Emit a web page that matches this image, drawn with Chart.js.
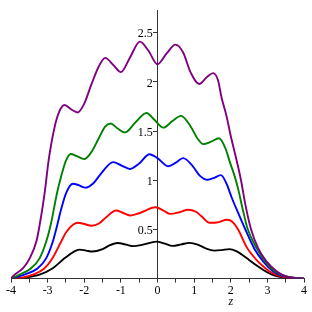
<!DOCTYPE html>
<html>
<head>
<meta charset="utf-8">
<script src="https://cdn.jsdelivr.net/npm/chart.js@4.4.1/dist/chart.umd.min.js"></script>
<style>
html,body{margin:0;padding:0;background:#fff;}
#wrap{width:312px;height:312px;position:relative;}
</style>
</head>
<body>
<div id="wrap"><canvas id="c" width="312" height="312"></canvas></div>
<script>
// ---- data ----
const xTitle = 'z';
const xTicks = [-4,-3,-2,-1,0,1,2,3,4];
const yTicks = [0.5,1,1.5,2,2.5];

const blackZ = [-4,-3.6,-3.22,-2.86,-2.54,-2.3,-2.13,-1.95,-1.78,-1.5,-1.3,-1.09,-0.85,-0.66,-0.4,-0.03,0.2,0.41,0.65,0.87,1.1,1.3,1.55,1.75,1.96,2.15,2.3,2.5,2.7,2.9,3.1,3.3,3.6,4];
const blackV = [0,0.01,0.04,0.106,0.206,0.27,0.295,0.285,0.275,0.30,0.34,0.362,0.345,0.33,0.345,0.376,0.355,0.333,0.348,0.363,0.345,0.31,0.285,0.29,0.30,0.28,0.245,0.19,0.135,0.085,0.045,0.02,0.005,0];

const redZ = [-4,-3.7,-3.4,-3.1,-2.88,-2.64,-2.49,-2.3,-2.17,-2.0,-1.8,-1.6,-1.4,-1.13,-0.95,-0.75,-0.5,-0.05,0.15,0.35,0.6,0.83,1.05,1.2,1.42,1.62,1.9,2.05,2.2,2.45,2.6,2.74,2.9,3.05,3.3,3.6,4];
const redV = [0,0.01,0.04,0.1,0.2,0.37,0.474,0.55,0.568,0.555,0.538,0.56,0.625,0.692,0.67,0.642,0.665,0.725,0.695,0.658,0.675,0.70,0.68,0.635,0.568,0.57,0.598,0.575,0.5,0.31,0.235,0.175,0.12,0.075,0.03,0.008,0];

const blueZ = [-4,-3.63,-3.27,-3.04,-2.86,-2.74,-2.63,-2.49,-2.31,-2.15,-1.97,-1.75,-1.57,-1.21,-0.98,-0.75,-0.5,-0.22,0,0.3,0.5,0.7,0.95,1.16,1.37,1.55,1.73,1.88,2.03,2.2,2.39,2.64,2.89,3.16,3.4,3.7,4];
const blueV = [0,0.04,0.106,0.206,0.374,0.54,0.707,0.875,0.965,0.95,0.925,0.97,1.055,1.185,1.15,1.115,1.17,1.265,1.225,1.142,1.18,1.225,1.15,1.045,1.005,1.025,1.052,0.97,0.82,0.67,0.507,0.307,0.173,0.073,0.03,0.008,0];

const greenZ = [-4,-3.77,-3.45,-3.22,-3.04,-2.92,-2.74,-2.63,-2.5,-2.37,-2.2,-2.0,-1.8,-1.6,-1.43,-1.28,-1.1,-0.89,-0.6,-0.3,-0.1,0.16,0.4,0.64,0.9,1.1,1.25,1.45,1.68,1.85,1.98,2.1,2.21,2.33,2.46,2.71,2.94,3.21,3.5,3.8,4];
const greenV = [0,0.04,0.106,0.206,0.374,0.54,0.875,1.04,1.2,1.268,1.245,1.215,1.29,1.43,1.545,1.578,1.53,1.487,1.59,1.685,1.62,1.536,1.6,1.655,1.55,1.42,1.368,1.39,1.428,1.33,1.18,1.05,0.9,0.7,0.507,0.307,0.173,0.073,0.025,0.005,0];

const purpleZ = [-4,-3.9,-3.67,-3.49,-3.31,-3.22,-3.08,-2.97,-2.81,-2.68,-2.54,-2.35,-2.18,-2.0,-1.8,-1.6,-1.43,-1.2,-1.0,-0.75,-0.48,-0.25,0,0.25,0.49,0.7,0.9,1.14,1.35,1.52,1.65,1.75,1.88,2.0,2.13,2.28,2.4,2.55,2.75,2.98,3.26,3.53,3.8,4];
const purpleV = [0,0.04,0.106,0.206,0.374,0.54,0.875,1.21,1.54,1.70,1.765,1.72,1.69,1.78,1.98,2.16,2.245,2.17,2.10,2.25,2.41,2.32,2.18,2.29,2.38,2.3,2.1,1.98,2.05,2.09,2.02,1.84,1.66,1.45,1.25,1.0,0.75,0.507,0.307,0.173,0.073,0.02,0.005,0];

const seriesColors = {black:'#000000', red:'#ff0000', blue:'#0000ff', green:'#008000', purple:'#800080'};

function pts(zs, vs){ return zs.map((z,i)=>({x:z, y:vs[i]})); }
function ds(name, zs, vs){
  return {label:name, data:pts(zs,vs), borderColor:seriesColors[name], borderWidth:1.9,
          pointRadius:0, fill:false, cubicInterpolationMode:'monotone'};
}

const serif = "'Liberation Serif','Times New Roman',serif";
const axisColor = '#333333';

const zTitle = {
  id:'zTitle',
  afterDraw(chart){
    const ctx = chart.ctx, xs = chart.scales.x;
    ctx.save();
    ctx.font = 'italic 12px ' + serif;
    ctx.fillStyle = '#000';
    ctx.textAlign = 'center';
    ctx.textBaseline = 'middle';
    ctx.fillText(xTitle, xs.getPixelForValue(2), 302);
    ctx.restore();
  }
};

new Chart(document.getElementById('c'), {
  type:'line',
  data:{ datasets:[
    ds('purple', purpleZ, purpleV),
    ds('green', greenZ, greenV),
    ds('blue', blueZ, blueV),
    ds('red', redZ, redV),
    ds('black', blackZ, blackV)
  ]},
  options:{
    responsive:false, animation:false, devicePixelRatio:1,
    layout:{padding:{left:11, right:8, top:5, bottom:13}},
    plugins:{legend:{display:false}, tooltip:{enabled:false}},
    scales:{
      x:{type:'linear', position:'bottom', min:-4, max:4,
         ticks:{stepSize:0.5, padding:1, color:'#000', font:{family:serif, size:12}, maxRotation:0, autoSkip:false,
                callback:(v)=> xTicks.includes(v) ? String(v) : ''},
         grid:{display:true, drawOnChartArea:false, drawTicks:true, tickLength:4, color:axisColor},
         border:{display:true, color:axisColor, width:1}},
      y:{type:'linear', position:{x:0}, min:0, max:2.73,
         ticks:{stepSize:0.5, includeBounds:false, labelOffset:1.5, color:'#000', font:{family:serif, size:12},
                callback:(v)=> yTicks.includes(v) ? String(v) + '\u2009\u2009' : ''},
         grid:{display:true, drawOnChartArea:false, drawTicks:true, tickLength:4, color:axisColor},
         border:{display:true, color:axisColor, width:1}}
    }
  },
  plugins:[zTitle]
});
</script>
</body>
</html>
